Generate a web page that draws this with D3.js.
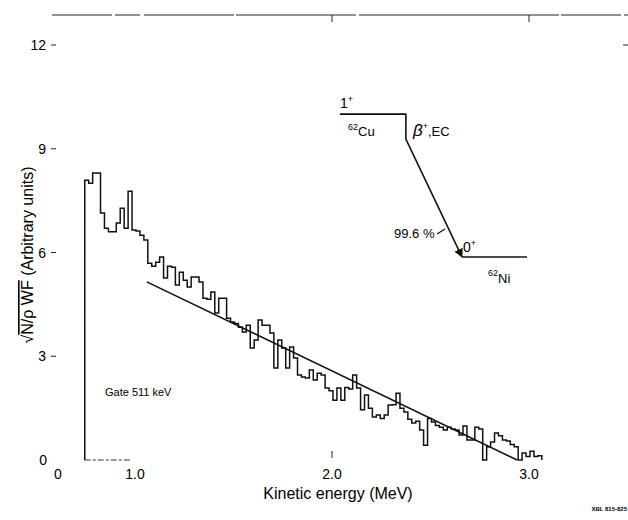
<!DOCTYPE html>
<html>
<head>
<meta charset="utf-8">
<script src="https://cdn.jsdelivr.net/npm/d3@7"></script>
<style>
  body { margin: 0; background: #fff; }
  svg { display: block; }
</style>
</head>
<body>
<div id="chart"></div>
<script>
// Histogram (sqrt(N/pWF)), 0.02 MeV bins starting at 0.745 MeV
var binStart = 0.745,
    binWidth = 0.02;
var kurieValues = [
  8.09, 8.0, 8.3, 8.3, 7.14, 6.7, 6.6, 6.6, 6.85, 7.28,
  6.7, 7.77, 6.65, 6.62, 6.5, 6.36, 5.69, 5.6, 5.72, 5.87,
  5.26, 5.6, 5.57, 5.06, 5.43, 5.2, 5.0, 5.29, 5.29, 5.15,
  4.68, 4.65, 4.86, 4.25, 4.68, 4.68, 4.1, 3.99, 3.95, 3.84,
  3.7, 3.9, 3.24, 3.47, 4.05, 3.9, 3.9, 3.67, 2.66, 3.47,
  3.24, 2.66, 3.27, 2.95, 2.46, 2.4, 2.37, 2.6, 2.31, 2.51,
  2.46, 2.08, 2.0, 1.73, 2.08, 1.73, 2.1, 2.05, 2.46, 2.08,
  1.45, 1.88, 1.5, 1.24, 1.3, 1.2, 1.3, 1.59, 1.6, 1.93,
  1.5, 1.39, 1.18, 1.07, 1.12, 0.87, 0.43, 1.2, 1.1, 1.0,
  0.95, 0.87, 0.95, 0.9, 0.87, 0.72, 0.98, 0.58, 0.58, 0.95,
  0.9, 0, 0.38, 0.52, 0.78, 0.7, 0.58, 0.55, 0.45, 0.38,
  0, 0.2, 0.1, 0.25, 0.1, 0.12
];

// Fitted straight line
var fitEnergy = [1.06, 2.94],
    fitValue = [5.15, 0];

// Ticks
var yTicks = [0, 3, 6, 9, 12],
    xTicks = [1, 2, 3],
    xTickLabels = ["1.0", "2.0", "3.0"];

// Decay scheme inset (data units)
var cuLevel = {e0: 2.04, e1: 2.375, v: 10.0},
    niLevel = {e0: 2.66, e1: 2.99, v: 5.87},
    betaKink = {e: 2.375, v: 9.28};

var W = 628, H = 520,
    font_family = "'Liberation Sans', Arial, Helvetica, sans-serif";

var x = d3.scaleLinear().domain([1, 3]).range([135, 529]),
    y = d3.scaleLinear().domain([0, 12]).range([460, 45]);

var svg = d3.select("#chart").append("svg")
  .attr("width", W)
  .attr("height", H)
  .attr("font-family", font_family);

// Top frame line with ticks
svg.append("line")
  .attr("x1", 52).attr("x2", W)
  .attr("y1", 15).attr("y2", 15)
  .attr("stroke", "#222")
  .attr("stroke-width", 1)
  .attr("stroke-dasharray", "60,3,25,4,90,2,120,3,200,2");

svg.selectAll(".toptick")
  .data([2, 3])
  .enter().append("line")
  .attr("x1", function(d) { return x(d); })
  .attr("x2", function(d) { return x(d); })
  .attr("y1", 15).attr("y2", 22)
  .attr("stroke", "#222");

// Right tick at 12
svg.append("line")
  .attr("x1", 623).attr("x2", W)
  .attr("y1", y(12)).attr("y2", y(12))
  .attr("stroke", "#222");

// Y ticks and labels
var yt = svg.selectAll(".ytick")
  .data(yTicks)
  .enter().append("g")
  .attr("transform", function(d) { return "translate(0," + y(d) + ")"; });

yt.append("text")
  .attr("x", function(d) { return d == 0 ? 47 : 46; })
  .attr("y", 5)
  .attr("text-anchor", "end")
  .style("font-size", "14px")
  .text(function(d) { return d; });

yt.filter(function(d) { return d > 0; }).append("line")
  .attr("x1", 51).attr("x2", 56)
  .attr("y1", 0).attr("y2", 0)
  .attr("stroke", "#222");

// X tick labels
svg.append("text")
  .attr("x", 58).attr("y", 479)
  .attr("text-anchor", "middle")
  .style("font-size", "14px")
  .text("0");

svg.selectAll(".xlabel")
  .data(xTicks)
  .enter().append("text")
  .attr("x", function(d) { return x(d); })
  .attr("y", 479)
  .attr("text-anchor", "middle")
  .style("font-size", "14px")
  .text(function(d, i) { return xTickLabels[i]; });

svg.append("line")
  .attr("x1", x(2)).attr("x2", x(2))
  .attr("y1", 451).attr("y2", 458)
  .attr("stroke", "#222");

// Short baseline
svg.append("line")
  .attr("x1", x(binStart)).attr("x2", 130)
  .attr("y1", y(0)).attr("y2", y(0))
  .attr("stroke", "#333")
  .attr("stroke-dasharray", "6,2,3,2");

// Axis titles
svg.append("text")
  .attr("x", 338).attr("y", 499)
  .attr("text-anchor", "middle")
  .style("font-size", "16px")
  .text("Kinetic energy (MeV)");

var ylab = svg.append("text")
  .attr("transform", "translate(33,255) rotate(-90)")
  .attr("text-anchor", "middle")
  .style("font-size", "16px");
ylab.append("tspan").text("\u221A");
ylab.append("tspan").style("text-decoration", "overline").text("N/\u03C1 WF");
ylab.append("tspan").text(" (Arbitrary units)");

// Histogram
var pts = [[x(binStart), y(0)]];
kurieValues.forEach(function(v, i) {
  var e0 = binStart + i * binWidth,
      e1 = e0 + binWidth;
  pts.push([x(e0), y(v)]);
  pts.push([x(e1), y(v)]);
});
pts.push([x(binStart + kurieValues.length * binWidth), y(0)]);

svg.append("path")
  .attr("d", d3.line()(pts))
  .attr("fill", "none")
  .attr("stroke", "#111")
  .attr("stroke-width", 1.5)
  .attr("stroke-linejoin", "miter");

// Fit line
svg.append("line")
  .attr("x1", x(fitEnergy[0])).attr("y1", y(fitValue[0]))
  .attr("x2", x(fitEnergy[1])).attr("y2", y(fitValue[1]))
  .attr("stroke", "#111")
  .attr("stroke-width", 1.6);

svg.append("text")
  .attr("x", 105).attr("y", 396)
  .style("font-size", "11px")
  .text("Gate 511 keV");

// Decay scheme
svg.append("defs").append("marker")
  .attr("id", "arrow")
  .attr("viewBox", "0 0 10 10")
  .attr("refX", 9).attr("refY", 5)
  .attr("markerWidth", 9).attr("markerHeight", 9)
  .attr("markerUnits", "userSpaceOnUse")
  .attr("orient", "auto")
  .append("path")
  .attr("d", "M0,0 L10,5 L0,10 z")
  .attr("fill", "#111");

svg.append("path")
  .attr("d", d3.line()([
    [x(cuLevel.e0), y(cuLevel.v)],
    [x(cuLevel.e1), y(cuLevel.v)],
    [x(betaKink.e), y(betaKink.v)],
    [x(niLevel.e0), y(niLevel.v)]
  ]))
  .attr("fill", "none")
  .attr("stroke", "#111")
  .attr("stroke-width", 1.6)
  .attr("marker-end", "url(#arrow)");

svg.append("line")
  .attr("x1", x(niLevel.e0)).attr("x2", x(niLevel.e1))
  .attr("y1", y(niLevel.v)).attr("y2", y(niLevel.v))
  .attr("stroke", "#111")
  .attr("stroke-width", 1.6);

// leader tick from the percentage
svg.append("line")
  .attr("x1", 437).attr("y1", 234)
  .attr("x2", 445).attr("y2", 229)
  .attr("stroke", "#111")
  .attr("stroke-width", 1.2);

var t1 = svg.append("text").attr("x", x(cuLevel.e0)).attr("y", y(cuLevel.v) - 6).style("font-size", "14px");
t1.append("tspan").text("1");
t1.append("tspan").attr("dy", -6).style("font-size", "9px").text("+");

var t2 = svg.append("text").attr("x", 348).attr("y", 136).style("font-size", "13px");
t2.append("tspan").attr("dy", -6).style("font-size", "9px").text("62");
t2.append("tspan").attr("dy", 6).text("Cu");

var t3 = svg.append("text").attr("x", 413).attr("y", 136).style("font-size", "13px");
t3.append("tspan").style("font-size", "17px").style("font-style", "italic").text("\u03B2");
t3.append("tspan").attr("dy", -7).style("font-size", "9px").text("+");
t3.append("tspan").attr("dy", 7).text(",EC");

svg.append("text")
  .attr("x", 394).attr("y", 238)
  .style("font-size", "13px")
  .text("99.6 %");

var t4 = svg.append("text").attr("x", 463).attr("y", y(niLevel.v) - 5).style("font-size", "14px");
t4.append("tspan").text("0");
t4.append("tspan").attr("dy", -6).style("font-size", "9px").text("+");

var t5 = svg.append("text").attr("x", 488).attr("y", 283).style("font-size", "13px");
t5.append("tspan").attr("dy", -7).style("font-size", "9px").text("62");
t5.append("tspan").attr("dy", 7).text("Ni");

svg.append("text")
  .attr("x", 627).attr("y", 511)
  .attr("text-anchor", "end")
  .style("font-size", "6px")
  .style("font-weight", "bold")
  .text("XBL 815-825");
</script>
</body>
</html>
